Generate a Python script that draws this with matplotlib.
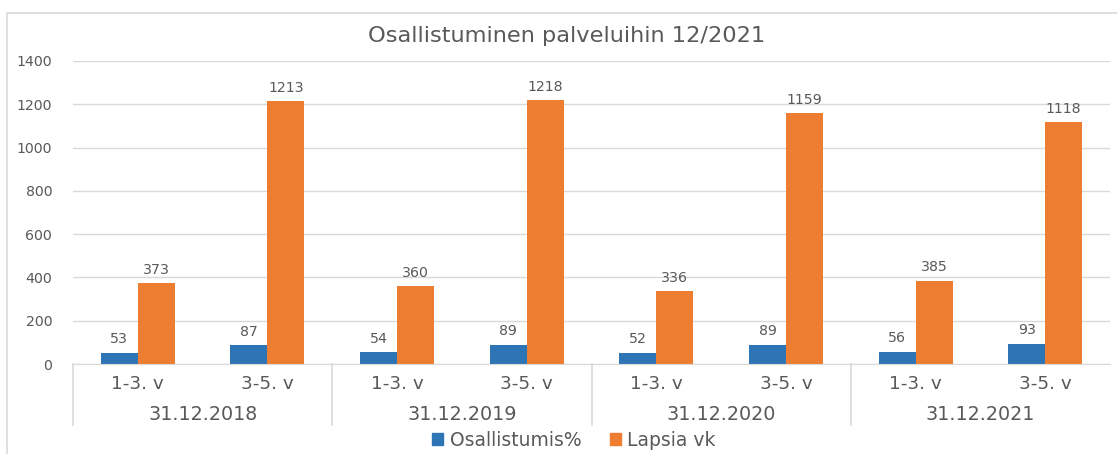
import matplotlib
matplotlib.use("Agg")
import matplotlib.pyplot as plt
from matplotlib.patches import Rectangle
from matplotlib.lines import Line2D
import numpy as np

plt.rcParams['font.family'] = ['DejaVu Sans']

title = "Osallistuminen palveluihin 12/2021"
groups = ["31.12.2018", "31.12.2019", "31.12.2020", "31.12.2021"]
subcats = ["1-3. v", "3-5. v"]
series_names = ["Osallistumis%", "Lapsia vk"]
osallistumis = [53, 87, 54, 89, 52, 89, 56, 93]
lapsia = [373, 1213, 360, 1218, 336, 1159, 385, 1118]
yticks = [0, 200, 400, 600, 800, 1000, 1200, 1400]

blue = "#2E75B6"
orange = "#ED7D31"
txt = "#595959"
grid = "#D9D9D9"

W, H = 1117, 454
fig = plt.figure(figsize=(W / 100, H / 100), dpi=100)
ax = fig.add_axes([73 / W, 1 - 364 / H, (1110 - 73) / W, (364 - 61) / H])

n = len(osallistumis)
x = np.arange(n) + 0.5
bw = 0.285
ax.bar(x - bw / 2, osallistumis, bw, color=blue, label=series_names[0])
ax.bar(x + bw / 2, lapsia, bw, color=orange, label=series_names[1])
for xi, v in zip(x - bw / 2, osallistumis):
    ax.text(xi, v + 62, str(v), ha='center', va='center', fontsize=10.2, color=txt)
for xi, v in zip(x + bw / 2, lapsia):
    ax.text(xi, v + 62, str(v), ha='center', va='center', fontsize=10.2, color=txt)

ax.set_xlim(0, n)
ax.set_ylim(0, 1400)
ax.set_yticks(yticks)
ax.set_yticklabels([str(t) for t in yticks], fontsize=10.2, color=txt)
ax.tick_params(axis='y', length=0, pad=15)
ax.set_xticks([])
ax.yaxis.grid(True, color=grid, linewidth=1)
ax.set_axisbelow(True)
for s in ['top', 'right', 'left']:
    ax.spines[s].set_visible(False)
ax.spines['bottom'].set_color(grid)

# multi-level category axis
trans = ax.get_xaxis_transform()
for i in range(n):
    ax.text(i + 0.5, -0.067, subcats[i % 2], transform=trans, ha='center', va='center',
            fontsize=13.2, color=txt)
for g, name in enumerate(groups):
    ax.text(2 * g + 1, -0.167, name, transform=trans, ha='center', va='center',
            fontsize=13.8, color=txt)
for b in range(0, n, 2):
    ax.add_line(Line2D([b, b], [0, -0.2], transform=trans, color=grid, linewidth=1.2,
                       clip_on=False))

fig.text(567 / W, 1 - 36 / H, title, ha='center', va='center', fontsize=16.2, color=txt)

# chart border
fig.add_artist(Rectangle((7 / W, -0.01), 1.2, 1 - 13 / H + 0.01, transform=fig.transFigure,
                         fill=False, edgecolor=grid, linewidth=1.2))

handles = [Rectangle((0, 0), 1, 1, color=blue), Rectangle((0, 0), 1, 1, color=orange)]
fig.legend(handles, series_names, loc='center', bbox_to_anchor=(574 / W, 1 - 440 / H),
           ncol=2, frameon=False, fontsize=13.5, labelcolor=txt, handlelength=0.6,
           handleheight=0.6, columnspacing=1.5, handletextpad=0.35)

fig.savefig("out.png", dpi=100)
